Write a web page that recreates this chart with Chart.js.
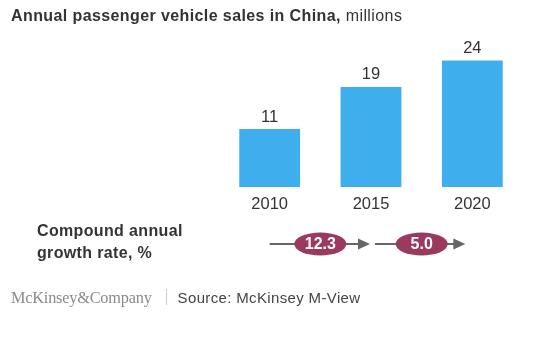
<!DOCTYPE html>
<html>
<head>
<meta charset="utf-8">
<script src="https://cdn.jsdelivr.net/npm/chart.js@4/dist/chart.umd.min.js"></script>
<style>
  html, body { margin: 0; padding: 0; background: #fff; }
  #wrap { position: relative; width: 555px; height: 342px; font-family: "Liberation Sans", Arial, sans-serif; color: #333; }
  #chart { position: absolute; left: 0; top: 0; }
  .title { position: absolute; left: 11px; top: 7px; font-size: 16px; letter-spacing: 0.4px; white-space: nowrap; }
  .title b { font-weight: bold; }
  .cagr { position: absolute; left: 37px; top: 220px; font-size: 16px; letter-spacing: 0.35px; font-weight: bold; line-height: 22px; }
  .footer { position: absolute; left: 11px; top: 288px; white-space: nowrap; }
  .brand { font-family: "Liberation Serif", "Times New Roman", serif; font-size: 16.3px; color: #8a8a8a; letter-spacing: -0.2px; }
  .sep { display: inline-block; width: 1px; height: 16px; background: #ccc; margin: 0 11px 0 14px; vertical-align: -2px; }
  .src { font-size: 15px; letter-spacing: 0.35px; color: #444; }
</style>
</head>
<body>
<div id="wrap">
  <canvas id="chart" width="555" height="342"></canvas>
  <div class="title"><b>Annual passenger vehicle sales in China,</b> millions</div>
  <div class="cagr">Compound annual<br>growth rate, %</div>
  <div class="footer"><span class="brand">McKinsey&amp;Company</span><span class="sep"></span><span class="src">Source: McKinsey M-View</span></div>
</div>
<script>
// Sales by year, millions
const years = ['2010', '2015', '2020'];
const sales = [11, 19, 24];
// Compound annual growth between consecutive years, %
const cagr = ['12.3', '5.0'];

const BAR_BLUE = '#3FAEEC';
const MAROON = '#9A3A5E';
const ARROW_GREY = '#666666';
const FONT = '"Liberation Sans", Arial, sans-serif';

// Value labels above each bar
const valueLabels = {
  id: 'valueLabels',
  afterDatasetsDraw(chart) {
    const ctx = chart.ctx;
    const meta = chart.getDatasetMeta(0);
    ctx.save();
    ctx.font = '16.5px ' + FONT;
    ctx.fillStyle = '#333';
    ctx.textAlign = 'center';
    ctx.textBaseline = 'middle';
    meta.data.forEach((bar, i) => {
      ctx.fillText(String(sales[i]), bar.x, bar.y - 12);
    });
    ctx.restore();
  }
};

// Growth arrows between year columns, with the rate in a pill
const growthArrows = {
  id: 'growthArrows',
  afterDraw(chart) {
    const ctx = chart.ctx;
    const xs = chart.scales.x;
    const y = 244;
    ctx.save();
    for (let i = 0; i < cagr.length; i++) {
      const x0 = xs.getPixelForValue(i) + (i === 0 ? 0 : 4);
      const x1 = xs.getPixelForValue(i + 1) - (i === 0 ? 1 : 7);
      // shaft
      ctx.strokeStyle = ARROW_GREY;
      ctx.lineWidth = 2;
      ctx.beginPath();
      ctx.moveTo(x0, y);
      ctx.lineTo(x1 - 10, y);
      ctx.stroke();
      // head
      ctx.fillStyle = ARROW_GREY;
      ctx.beginPath();
      ctx.moveTo(x1, y);
      ctx.lineTo(x1 - 12, y - 5.5);
      ctx.lineTo(x1 - 12, y + 5.5);
      ctx.closePath();
      ctx.fill();
      // pill
      const cx = (xs.getPixelForValue(i) + xs.getPixelForValue(i + 1)) / 2;
      ctx.fillStyle = MAROON;
      ctx.beginPath();
      ctx.ellipse(cx, y, 26, 11.5, 0, 0, Math.PI * 2);
      ctx.fill();
      ctx.fillStyle = '#fff';
      ctx.font = 'bold 16px ' + FONT;
      ctx.textAlign = 'center';
      ctx.textBaseline = 'middle';
      ctx.fillText(cagr[i], cx, y + 0.5);
    }
    ctx.restore();
  }
};

new Chart(document.getElementById('chart'), {
  type: 'bar',
  data: {
    labels: years,
    datasets: [{
      data: sales,
      backgroundColor: BAR_BLUE,
      borderWidth: 0,
      barPercentage: 0.6,
      categoryPercentage: 1.0
    }]
  },
  options: {
    responsive: false,
    animation: false,
    events: [],
    layout: { padding: { left: 219, right: 32, top: 29, bottom: 125 } },
    plugins: { legend: { display: false }, tooltip: { enabled: false }, title: { display: false } },
    scales: {
      x: {
        grid: { display: false, drawTicks: false },
        border: { display: false },
        afterFit(scale) { scale.height = 30; },
        ticks: {
          color: '#333',
          padding: 8,
          font: { family: FONT, size: 16.5 }
        }
      },
      y: {
        display: false,
        min: 0,
        max: 30
      }
    }
  },
  plugins: [valueLabels, growthArrows]
});
</script>
</body>
</html>
